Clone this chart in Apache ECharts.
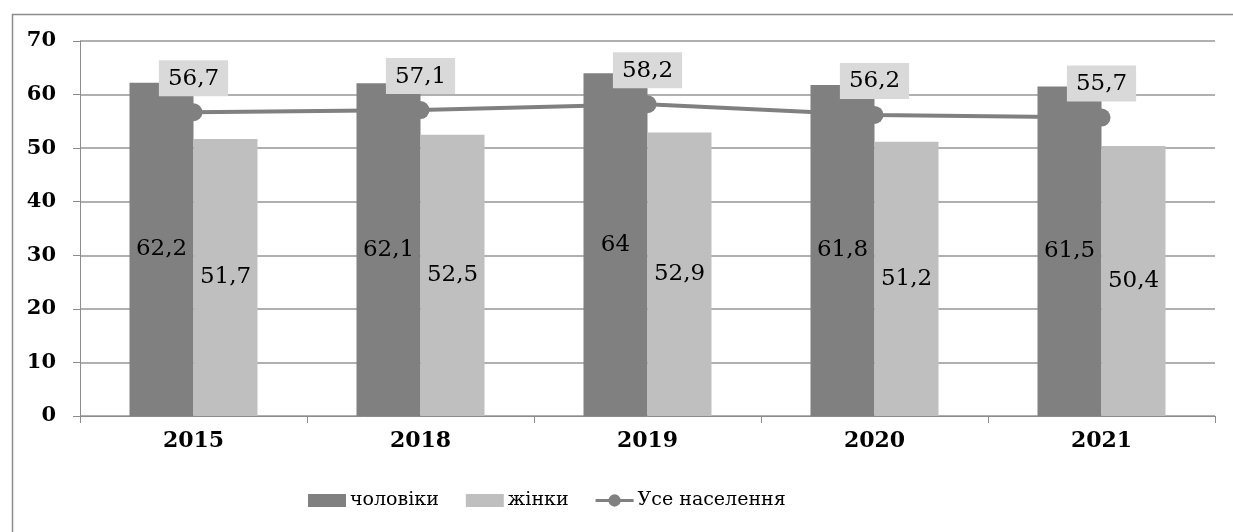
<!DOCTYPE html>
<html>
<head>
<meta charset="utf-8">
<script src="https://cdn.jsdelivr.net/npm/echarts@6/dist/echarts.min.js"></script>
<style>
  html, body { margin: 0; padding: 0; background: #fff; }
  #chart { width: 1233px; height: 532px; }
</style>
</head>
<body>
<div id="chart"></div>
<script>
// Years on the category axis
const years = ['2015', '2018', '2019', '2020', '2021'];
// Rates by group, %
const men = [62.2, 62.1, 64, 61.8, 61.5];
const women = [51.7, 52.5, 52.9, 51.2, 50.4];
const total = [56.7, 57.1, 58.2, 56.2, 55.7];
// Value axis ticks
const yTicks = [0, 10, 20, 30, 40, 50, 60, 70];

const seriesNames = ['чоловіки', 'жінки', 'Усе населення'];
const FONT = 'DejaVu Serif';
const fmt = v => String(v).replace('.', ',');

// legend glyph for the line series: a short stroke with a dot on it
const lineIcon = 'path://M0,5H40V8H0Z M26.5,6.5A6.5,6.5,0,1,1,13.5,6.5A6.5,6.5,0,1,1,26.5,6.5Z';

const chart = echarts.init(document.getElementById('chart'), null, { renderer: 'canvas' });

chart.setOption({
  animation: false,
  backgroundColor: '#ffffff',
  textStyle: { fontFamily: FONT, color: '#000' },
  graphic: [{
    type: 'rect',
    left: 10, top: 12,
    shape: { width: 1240, height: 540 },
    style: { fill: 'none', stroke: '#8c8c8c', lineWidth: 1.5 },
    silent: true
  }],
  grid: { left: 80, right: 18, top: 41, bottom: 116 },
  legend: {
    top: 486,
    left: 303,
    itemGap: 27,
    itemWidth: 38,
    itemHeight: 13,
    textStyle: { fontFamily: FONT, fontSize: 19, color: '#000', padding: [0, 0, 0, -1] },
    data: [
      { name: seriesNames[0], icon: 'rect' },
      { name: seriesNames[1], icon: 'rect' },
      { name: seriesNames[2], icon: lineIcon, itemStyle: { color: '#808080' } }
    ]
  },
  xAxis: {
    type: 'category',
    data: years,
    axisLine: { lineStyle: { color: '#8c8c8c', width: 1 } },
    axisTick: { show: true, length: 7, lineStyle: { color: '#8c8c8c' } },
    axisLabel: { fontFamily: FONT, fontSize: 22, fontWeight: 'bold', color: '#000', margin: 14 }
  },
  yAxis: {
    type: 'value',
    min: yTicks[0],
    max: yTicks[yTicks.length - 1],
    interval: 10,
    axisLine: { show: true, lineStyle: { color: '#8c8c8c', width: 1 } },
    axisTick: { show: true, length: 7, lineStyle: { color: '#8c8c8c' } },
    splitLine: { lineStyle: { color: '#969696', width: 1.5 } },
    axisLabel: { fontFamily: FONT, fontSize: 21, fontWeight: 'bold', color: '#000', margin: 24 }
  },
  series: [
    {
      name: seriesNames[0],
      type: 'bar',
      data: men,
      barWidth: 64,
      barGap: '0%',
      itemStyle: { color: '#808080' },
      label: {
        show: true, position: 'inside',
        fontFamily: FONT, fontSize: 23, color: '#000',
        formatter: p => fmt(p.value)
      }
    },
    {
      name: seriesNames[1],
      type: 'bar',
      data: women,
      barWidth: 64,
      barGap: '0%',
      itemStyle: { color: '#bfbfbf' },
      label: {
        show: true, position: 'inside',
        fontFamily: FONT, fontSize: 23, color: '#000',
        formatter: p => fmt(p.value)
      }
    },
    {
      name: seriesNames[2],
      type: 'line',
      data: total,
      symbol: 'circle',
      symbolSize: 18,
      lineStyle: { color: '#808080', width: 4 },
      itemStyle: { color: '#808080' },
      z: 4,
      label: {
        show: true, position: 'top', distance: 7,
        fontFamily: FONT, fontSize: 23, color: '#000',
        backgroundColor: '#d9d9d9',
        padding: [7, 9, 6, 9],
        formatter: p => fmt(p.value)
      }
    }
  ]
});
</script>
</body>
</html>
